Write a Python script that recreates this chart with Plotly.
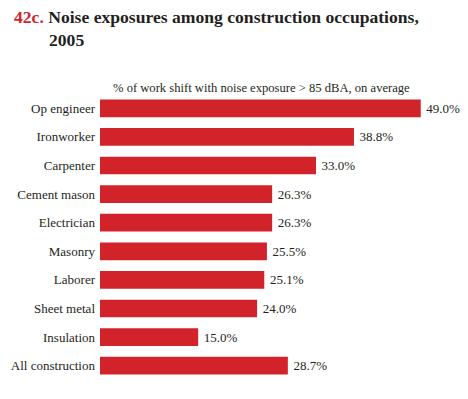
import plotly.graph_objects as go

categories = ["Op engineer", "Ironworker", "Carpenter", "Cement mason", "Electrician",
              "Masonry", "Laborer", "Sheet metal", "Insulation", "All construction"]
values = [49.0, 38.8, 33.0, 26.3, 26.3, 25.5, 25.1, 24.0, 15.0, 28.7]

title_num = "42c."
title_text = "Noise exposures among construction occupations,"
title_line2 = "2005"
subtitle = "% of work shift with noise exposure > 85 dBA, on average"

W, H = 468, 399
L, R, T, B = 100, 8, 93.5, 18.5
PW, PH = W - L - R, H - T - B

def px(x):
    return (x - L) / PW

def py(y):
    return (H - B - y) / PH

FONT = "Times New Roman"
RED = "#D2232A"
TXT = "#231F20"

fig = go.Figure(go.Bar(
    x=values, y=categories, orientation="h",
    marker=dict(color=RED, line=dict(width=0)),
    texttemplate="\u2009%{x:.1f}%", textposition="outside",
    textfont=dict(family=FONT, size=13, color=TXT),
    cliponaxis=False, hoverinfo="skip",
))

fig.update_layout(
    template="none",
    width=W, height=H,
    margin=dict(l=L, r=R, t=T, b=B, autoexpand=False),
    paper_bgcolor="white", plot_bgcolor="white",
    bargap=0.38,
    showlegend=False,
    font=dict(family=FONT, color=TXT),
    xaxis=dict(range=[0, 55], visible=False, fixedrange=True, automargin=False),
    yaxis=dict(categoryorder="array", categoryarray=categories[::-1],
               showgrid=False, zeroline=False, showline=False, ticks="",
               automargin=False, ticklabelstandoff=4, fixedrange=True,
               tickfont=dict(family=FONT, size=13, color=TXT)),
    annotations=[
        dict(text=f"<b><span style='color:{RED}'>{title_num}</span> {title_text}</b>",
             xref="paper", yref="paper", x=px(12), y=py(16), xanchor="left", yanchor="middle",
             showarrow=False, font=dict(family=FONT, size=17.6, color=TXT)),
        dict(text=f"<b>{title_line2}</b>",
             xref="paper", yref="paper", x=px(47), y=py(39), xanchor="left", yanchor="middle",
             showarrow=False, font=dict(family=FONT, size=17.6, color=TXT)),
        dict(text=subtitle,
             xref="paper", yref="paper", x=px(261), y=py(87), xanchor="center", yanchor="middle",
             showarrow=False, font=dict(family=FONT, size=12.6, color=TXT)),
    ],
)

fig.write_html("out.html", config={"displayModeBar": False},
               post_script="document.body.style.margin='0px';")
